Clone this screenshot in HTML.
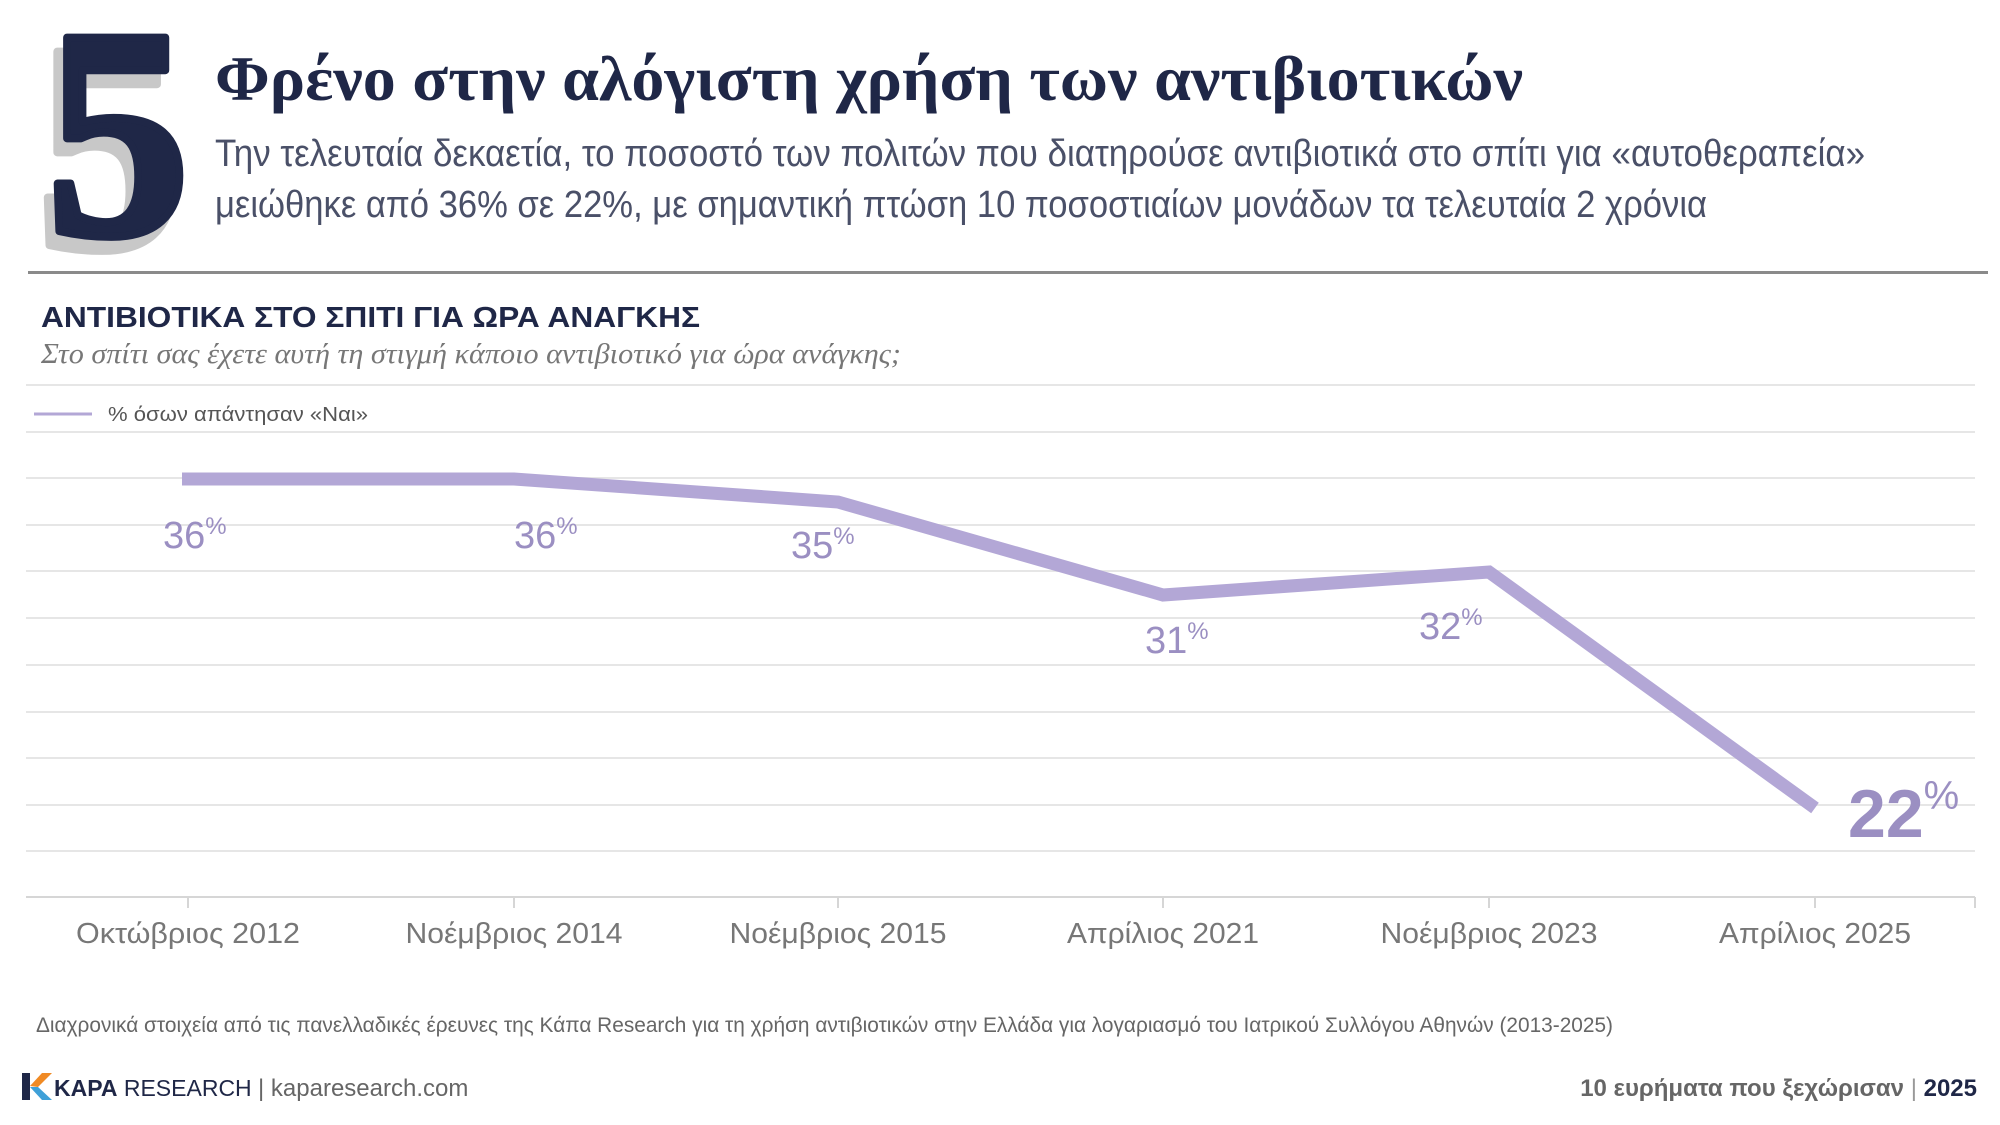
<!DOCTYPE html>
<html><head><meta charset="utf-8"><style>html,body{margin:0;padding:0;background:#fff}svg{display:block}</style></head>
<body>
<svg width="2000" height="1125" viewBox="0 0 2000 1125" xmlns="http://www.w3.org/2000/svg">
<rect width="2000" height="1125" fill="#fff"/>
<g font-family="Liberation Serif, serif" font-weight="bold" font-size="300" stroke-width="8" stroke-linejoin="round">
<text x="36" y="248" fill="#c8c8c8" stroke="#c8c8c8" textLength="146" lengthAdjust="spacingAndGlyphs">5</text>
<text x="46" y="234" fill="#1f2747" stroke="#1f2747" textLength="144" lengthAdjust="spacingAndGlyphs">5</text>
</g>
<text x="215" y="100" font-family="Liberation Serif, serif" font-weight="bold" font-size="64" fill="#1f2747" textLength="1308" lengthAdjust="spacingAndGlyphs">Φρένο στην αλόγιστη χρήση των αντιβιοτικών</text>
<g font-family="Liberation Sans, sans-serif" font-size="38" fill="#4a5068">
<text x="215" y="166" textLength="1650" lengthAdjust="spacingAndGlyphs">Την τελευταία δεκαετία, το ποσοστό των πολιτών που διατηρούσε αντιβιοτικά στο σπίτι για «αυτοθεραπεία»</text>
<text x="215" y="217" textLength="1492" lengthAdjust="spacingAndGlyphs">μειώθηκε από 36% σε 22%, με σημαντική πτώση 10 ποσοστιαίων μονάδων τα τελευταία 2 χρόνια</text>
</g>
<rect x="28" y="271" width="1960" height="3" fill="#8a8a8a"/>
<text x="41" y="327" font-family="Liberation Sans, sans-serif" font-weight="bold" font-size="29" fill="#1f2747" textLength="659" lengthAdjust="spacingAndGlyphs">ΑΝΤΙΒΙΟΤΙΚΑ ΣΤΟ ΣΠΙΤΙ ΓΙΑ ΩΡΑ ΑΝΑΓΚΗΣ</text>
<text x="41" y="363" font-family="Liberation Serif, serif" font-style="italic" font-size="28" fill="#777" textLength="860" lengthAdjust="spacingAndGlyphs">Στο σπίτι σας έχετε αυτή τη στιγμή κάποιο αντιβιοτικό για ώρα ανάγκης;</text>
<g stroke="#e6e6e6" stroke-width="2">
<line x1="26" x2="1975" y1="385" y2="385"/><line x1="26" x2="1975" y1="432" y2="432"/>
<line x1="26" x2="1975" y1="478" y2="478"/><line x1="26" x2="1975" y1="525" y2="525"/>
<line x1="26" x2="1975" y1="571" y2="571"/><line x1="26" x2="1975" y1="618" y2="618"/>
<line x1="26" x2="1975" y1="665" y2="665"/><line x1="26" x2="1975" y1="712" y2="712"/>
<line x1="26" x2="1975" y1="758" y2="758"/><line x1="26" x2="1975" y1="805" y2="805"/>
<line x1="26" x2="1975" y1="851" y2="851"/>
</g>
<g stroke="#d6d6d6" stroke-width="2">
<line x1="26" x2="1975" y1="897" y2="897"/>
<line x1="188" x2="188" y1="897" y2="908"/><line x1="514" x2="514" y1="897" y2="908"/>
<line x1="838" x2="838" y1="897" y2="908"/><line x1="1163" x2="1163" y1="897" y2="908"/>
<line x1="1489" x2="1489" y1="897" y2="908"/><line x1="1815" x2="1815" y1="897" y2="908"/>
<line x1="1975" x2="1975" y1="897" y2="908"/>
</g>
<line x1="34" x2="92" y1="414" y2="414" stroke="#b3a7d6" stroke-width="3"/>
<text x="108" y="421" font-family="Liberation Sans, sans-serif" font-size="20" fill="#555" textLength="260" lengthAdjust="spacingAndGlyphs">% όσων απάντησαν «Ναι»</text>
<polyline points="182,479 514,479 838,502 1163,595 1489,572 1815,808" fill="none" stroke="#b3a7d6" stroke-width="13" stroke-linejoin="miter"/>
<g font-family="Liberation Sans, sans-serif" fill="#9b8fc2" font-size="38">
<text x="163" y="548">36<tspan font-size="24" dy="-14">%</tspan></text>
<text x="514" y="548">36<tspan font-size="24" dy="-14">%</tspan></text>
<text x="791" y="558">35<tspan font-size="24" dy="-14">%</tspan></text>
<text x="1145" y="653">31<tspan font-size="24" dy="-14">%</tspan></text>
<text x="1419" y="639">32<tspan font-size="24" dy="-14">%</tspan></text>
<text x="1848" y="837" font-weight="bold" font-size="68">22<tspan font-size="40" dy="-28" font-weight="normal">%</tspan></text>
</g>
<g font-family="Liberation Sans, sans-serif" font-size="29" fill="#777" text-anchor="middle">
<text x="188" y="943" textLength="224" lengthAdjust="spacingAndGlyphs">Οκτώβριος 2012</text><text x="514" y="943" textLength="217" lengthAdjust="spacingAndGlyphs">Νοέμβριος 2014</text>
<text x="838" y="943" textLength="217" lengthAdjust="spacingAndGlyphs">Νοέμβριος 2015</text><text x="1163" y="943" textLength="192" lengthAdjust="spacingAndGlyphs">Απρίλιος 2021</text>
<text x="1489" y="943" textLength="217" lengthAdjust="spacingAndGlyphs">Νοέμβριος 2023</text><text x="1815" y="943" textLength="192" lengthAdjust="spacingAndGlyphs">Απρίλιος 2025</text>
</g>
<text x="36" y="1032" font-family="Liberation Sans, sans-serif" font-size="21" fill="#666" textLength="1577" lengthAdjust="spacingAndGlyphs">Διαχρονικά στοιχεία από τις πανελλαδικές έρευνες της Κάπα Research για τη χρήση αντιβιοτικών στην Ελλάδα για λογαριασμό του Ιατρικού Συλλόγου Αθηνών (2013-2025)</text>
<g>
<polygon points="22,1073 30,1073 30,1100 22,1100" fill="#1f2747"/>
<polygon points="30,1086 42,1073 52,1073 38,1087" fill="#f08a24"/>
<polygon points="30,1087 38,1087 52,1100 42,1100" fill="#3fa0d8"/>
<text x="54" y="1096" font-family="Liberation Sans, sans-serif" font-size="23" fill="#1f2747"><tspan font-weight="bold">KAPA</tspan> RESEARCH</text>
<text x="258" y="1096" font-family="Liberation Sans, sans-serif" font-size="24" fill="#666">| kaparesearch.com</text>
</g>
<text x="1977" y="1096" text-anchor="end" font-family="Liberation Sans, sans-serif" font-weight="bold" font-size="24" fill="#666">10 ευρήματα που ξεχώρισαν <tspan font-weight="normal" fill="#999">|</tspan> <tspan fill="#1f2747">2025</tspan></text>
</svg>
</body></html>
